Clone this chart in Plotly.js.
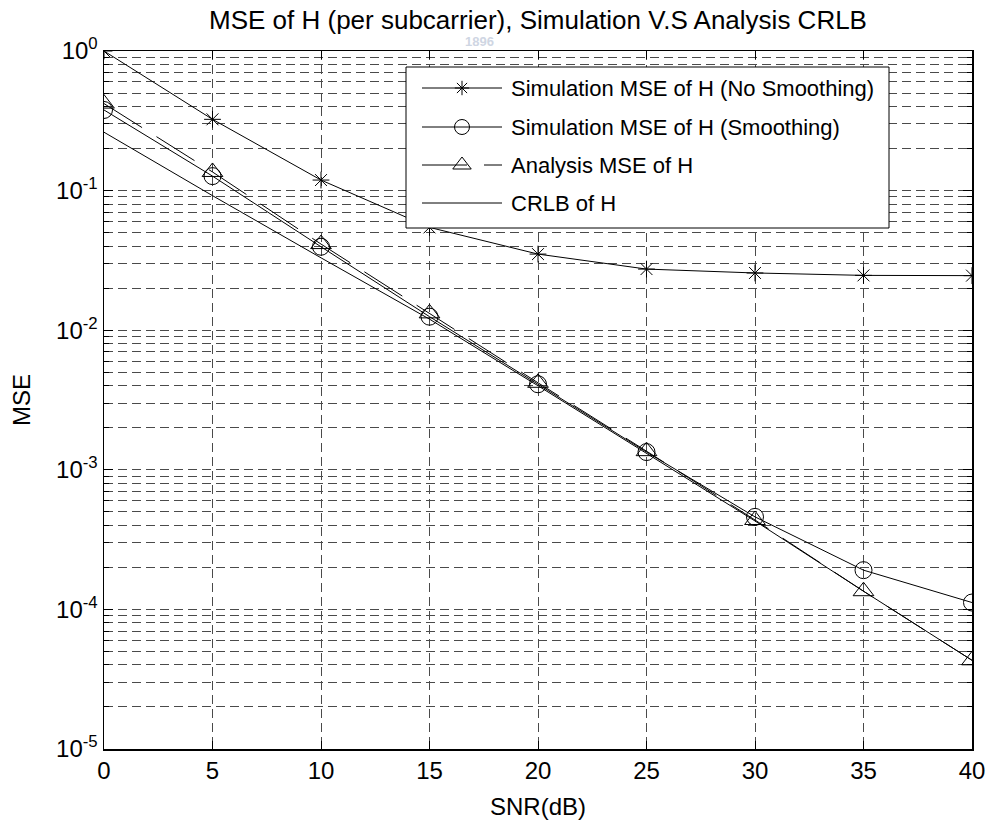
<!DOCTYPE html>
<html>
<head>
<meta charset="utf-8">
<script src="https://cdn.plot.ly/plotly-3.0.1.min.js"></script>
<style>html,body{margin:0;padding:0;background:#fff;}#chart{width:990px;height:823px;}</style>
</head>
<body>
<div id="chart"></div>
<script>
// ---- data ----
const snr = [0, 5, 10, 15, 20, 25, 30, 35, 40];
const mseNoSmoothing = [1.0, 0.324, 0.119, 0.0545, 0.0351, 0.0274, 0.0257, 0.0247, 0.0246];
const mseSmoothing = [0.378, 0.127, 0.0396, 0.0125, 0.0041, 0.00134, 0.00046, 0.000191, 0.000112];
const mseAnalysis = [0.42, 0.136, 0.0414, 0.0132, 0.0042, 0.00136, 0.000437, 0.000135, 0.0000432];
const crlb = [0.262, 0.092, 0.033, 0.0120, 0.0040, 0.00132, 0.00043, 0.000135, 0.0000432];

const seriesNames = [
  'Simulation MSE of H (No Smoothing)',
  'Simulation MSE of H (Smoothing)',
  'Analysis MSE of H',
  'CRLB of H'
];
const xTickVals = [0, 5, 10, 15, 20, 25, 30, 35, 40];
const yExponents = [-5, -4, -3, -2, -1, 0];

// ---- styling ----
const FONT = '"Liberation Sans", Arial, Helvetica, sans-serif';
const FS_TICK = 24, FS_TITLE = 26, FS_AXTITLE = 24, FS_LEG = 22;
const GRID = '#4a4a4a';
const GRIDDASH = '9px,5px';
const ANALYSIS_DASH = '45px,17px';

const yTickVals = yExponents.map(e => Math.pow(10, e));
const yTickText = yExponents.map(e => '10<sup>' + e + '</sup>');
const yMinorVals = [];
for (let e = -5; e < 0; e++) for (let m = 2; m <= 9; m++) yMinorVals.push(m * Math.pow(10, e));

const symbols = ['asterisk-open', 'circle-open', 'triangle-up-open', null];
const sizes = [14, 17, 18, 0];
const dashes = ['solid', 'solid', ANALYSIS_DASH, 'solid'];
const ys = [mseNoSmoothing, mseSmoothing, mseAnalysis, crlb];

const traces = ys.map((y, i) => {
  const t = {
    x: snr, y: y, name: seriesNames[i], type: 'scatter',
    mode: symbols[i] ? 'lines+markers' : 'lines',
    line: {color: '#000', width: 1, dash: dashes[i]},
    showlegend: false, hoverinfo: 'x+y+name'
  };
  if (symbols[i]) t.marker = {symbol: symbols[i], size: sizes[i], color: '#000', line: {color: '#000', width: 1}};
  return t;
});

// ---- custom MATLAB-style legend, drawn on an overlay axis in pixel units of the plot area ----
const PW = 868, PH = 698;
const LBOX = {x0: 302, x1: 785, y0: 16, y1: 177};
const LROW = [37, 76, 114, 152];
const LLINE = [318, 398];
const LMARK = 358;
const LTEXT = 405;

traces.push({
  x: [LBOX.x0, LBOX.x1, LBOX.x1, LBOX.x0, LBOX.x0],
  y: [LBOX.y0, LBOX.y0, LBOX.y1, LBOX.y1, LBOX.y0],
  xaxis: 'x2', yaxis: 'y2', type: 'scatter', mode: 'lines', fill: 'toself', fillcolor: '#fff',
  line: {color: '#000', width: 1}, showlegend: false, hoverinfo: 'skip'
});
for (let i = 0; i < 4; i++) {
  traces.push({
    x: [LLINE[0], LLINE[1]], y: [LROW[i], LROW[i]], xaxis: 'x2', yaxis: 'y2', type: 'scatter',
    mode: 'lines', line: {color: '#000', width: 1, dash: dashes[i]}, showlegend: false, hoverinfo: 'skip'
  });
  if (symbols[i]) {
    traces.push({
      x: [LMARK], y: [LROW[i]], xaxis: 'x2', yaxis: 'y2', type: 'scatter', mode: 'markers',
      marker: {symbol: symbols[i], size: sizes[i] - 2, color: '#000', line: {color: '#000', width: 1}},
      showlegend: false, hoverinfo: 'skip'
    });
  }
}

const annotations = seriesNames.map((n, i) => ({
  xref: 'x2', yref: 'y2', x: LTEXT, y: LROW[i], text: n, showarrow: false,
  xanchor: 'left', yanchor: 'middle', font: {family: FONT, size: FS_LEG, color: '#000'}
}));
annotations.push({
  xref: 'paper', yref: 'paper', x: 0.433, y: 1 + 9 / PH, text: '<b>1896</b>', showarrow: false,
  font: {family: FONT, size: 13, color: '#cfd6e3'}, xanchor: 'center', yanchor: 'middle'
});

const axisCommon = {
  showline: true, linecolor: '#000', linewidth: 1.5, mirror: 'allticks',
  ticks: 'inside', tickcolor: '#000', tickwidth: 1,
  showgrid: true, gridcolor: GRID, griddash: GRIDDASH, gridwidth: 1,
  zeroline: false, tickfont: {family: FONT, size: FS_TICK, color: '#000'}
};

const layout = {
  width: 990, height: 823,
  margin: {l: 104, r: 18, t: 51, b: 74},
  paper_bgcolor: '#fff', plot_bgcolor: '#fff',
  font: {family: FONT, size: FS_TICK, color: '#000'},
  title: {text: 'MSE of H (per subcarrier), Simulation V.S Analysis CRLB',
          x: 0.5, xref: 'paper', y: 1 - 20 / 823, yref: 'container', yanchor: 'middle',
          font: {family: FONT, size: FS_TITLE, color: '#000'}},
  xaxis: Object.assign({}, axisCommon, {
    range: [0, 40], tickmode: 'array', tickvals: xTickVals, ticklen: 8,
    title: {text: 'SNR(dB)', standoff: 15, font: {family: FONT, size: FS_AXTITLE, color: '#000'}}
  }),
  yaxis: Object.assign({}, axisCommon, {
    type: 'log', range: [-5, 0], tickmode: 'array', tickvals: yTickVals, ticktext: yTickText, ticklen: 9,
    minor: {tickmode: 'array', tickvals: yMinorVals, ticks: 'inside', ticklen: 5, tickcolor: '#000',
            showgrid: true, gridcolor: GRID, griddash: GRIDDASH, gridwidth: 1},
    title: {text: 'MSE', standoff: 18, font: {family: FONT, size: FS_AXTITLE, color: '#000'}}
  }),
  xaxis2: {overlaying: 'x', anchor: 'y2', range: [0, PW], visible: false, fixedrange: true},
  yaxis2: {overlaying: 'y', anchor: 'x2', range: [PH, 0], visible: false, fixedrange: true},
  annotations: annotations
};

Plotly.newPlot('chart', traces, layout, {displayModeBar: false, staticPlot: true});
</script>
</body>
</html>
